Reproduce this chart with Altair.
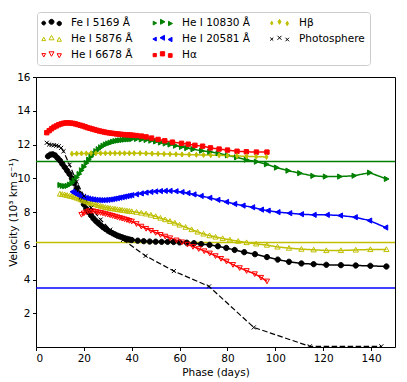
import altair as alt
import pandas as pd

# ---------------- data ----------------
fe_day = [5, 6, 7, 8, 9, 10, 11, 12, 13, 14, 15, 16, 17, 18, 19, 20, 21, 22, 23, 24, 25, 26, 27, 28, 29, 30,
          31, 32, 33, 34, 35, 36, 37, 38, 39, 40, 42.5, 45, 47.5, 50, 52.5, 55, 57.5, 60, 63, 66, 69, 72.5,
          76, 79.5, 83, 87, 91.5, 96.5, 101, 105.7, 110.9, 116, 121.3, 127.4, 133.6, 139.7, 146.4]
fe_vel = [11.3, 11.4, 11.42, 11.35, 11.2, 11.05, 10.85, 10.65, 10.45, 10.25, 10.0, 9.7, 9.4, 9.1, 8.75, 8.45,
          8.2, 8.0, 7.8, 7.62, 7.47, 7.34, 7.22, 7.1, 7.0, 6.9, 6.82, 6.74, 6.67, 6.6, 6.55, 6.5, 6.45, 6.41,
          6.37, 6.34, 6.3, 6.27, 6.25, 6.24, 6.23, 6.23, 6.22, 6.2, 6.18, 6.15, 6.1, 6.05, 5.97, 5.87, 5.75,
          5.62, 5.5, 5.33, 5.18, 5.05, 4.95, 4.91, 4.87, 4.85, 4.83, 4.81, 4.77]

he5876_day = [10, 11, 12, 13, 14, 15, 16, 17, 18, 19, 20, 21, 22, 23, 24, 25, 26, 27, 28, 29, 30, 31, 32, 33,
              34, 35, 36, 37, 38, 39, 40, 42, 44, 46, 48, 50, 52, 54, 56, 58, 60, 62.5, 65, 67.5, 70, 72.5,
              75, 78, 81, 84.5, 88, 92, 96.5, 100.9, 105.7, 110.9, 116, 121.3, 127.4, 133.6, 139.7, 146.4]
he5876_vel = [9.07, 9.05, 9.02, 8.99, 8.95, 8.92, 8.88, 8.83, 8.78, 8.72, 8.67, 8.62, 8.57, 8.52, 8.48, 8.44,
              8.39, 8.35, 8.31, 8.28, 8.25, 8.22, 8.2, 8.18, 8.15, 8.13, 8.11, 8.09, 8.07, 8.05, 8.03, 7.99,
              7.94, 7.89, 7.82, 7.74, 7.64, 7.55, 7.45, 7.35, 7.23, 7.1, 6.96, 6.82, 6.7, 6.6, 6.52, 6.43,
              6.35, 6.27, 6.19, 6.11, 6.04, 5.93, 5.86, 5.8, 5.76, 5.72, 5.72, 5.75, 5.78, 5.78]

he6678_day = [19, 20, 21, 22, 23, 24, 25, 26, 27, 28, 29, 30, 31, 32, 33, 34, 35, 36, 37, 38, 39, 40, 42, 44,
              46, 48, 50, 52, 54, 56, 58.7, 61, 63.3, 65.6, 68, 70.3, 72.6, 75, 77.3, 79.6, 82.3, 85.1, 88,
              91.4, 94, 96.5]
he6678_vel = [7.85, 7.93, 8.0, 8.06, 8.07, 8.05, 8.02, 7.99, 7.96, 7.93, 7.89, 7.86, 7.82, 7.78, 7.74, 7.7,
              7.66, 7.62, 7.58, 7.54, 7.49, 7.45, 7.3, 7.15, 7.02, 6.9, 6.78, 6.66, 6.56, 6.46, 6.33, 6.22,
              6.08, 5.95, 5.82, 5.69, 5.56, 5.4, 5.24, 5.08, 4.88, 4.69, 4.52, 4.33, 4.12, 3.9]

he10830_day = [10, 11, 12, 13, 14, 15, 16, 17, 18, 19, 20, 21, 22, 23, 24, 25, 26, 27, 28, 29, 30, 31, 32,
               33, 34, 35, 36, 37, 38, 39, 40, 42, 44, 46, 48, 50, 52, 54, 56, 58.3, 60.8, 63, 65.6, 69.2,
               72.6, 76.1, 80, 83.8, 87.9, 92.1, 96.3, 100.5, 105.3, 110.2, 115.7, 120.9, 126.9, 132.9,
               139.4, 146.4]
he10830_vel = [9.6, 9.55, 9.53, 9.55, 9.62, 9.72, 9.88, 10.05, 10.25, 10.47, 10.68, 10.9, 11.1, 11.28, 11.45,
               11.6, 11.72, 11.83, 11.92, 12.0, 12.06, 12.11, 12.16, 12.2, 12.23, 12.25, 12.27, 12.29, 12.3,
               12.31, 12.32, 12.33, 12.3, 12.27, 12.23, 12.18, 12.12, 12.06, 12.0, 11.93, 11.86, 11.79,
               11.72, 11.63, 11.57, 11.48, 11.36, 11.24, 11.1, 10.98, 10.83, 10.63, 10.45, 10.3, 10.14,
               10.1, 10.1, 10.15, 10.33, 9.96]

he20581_day = [15.3, 16, 17, 18, 19, 20, 21, 22, 23, 24, 25, 26, 27, 28, 29, 30, 31, 32, 33, 34, 35, 36, 37,
               38, 39, 40, 42, 44, 46, 48, 50, 52, 54, 56, 58.5, 61, 63.5, 66, 69, 72.6, 76, 79.6, 83, 86.5,
               90.5, 94.2, 97, 101.1, 106, 110.9, 116.2, 121.7, 127.2, 133.4, 139.4, 146.1]
he20581_vel = [9.2, 9.12, 9.05, 8.98, 8.92, 8.87, 8.83, 8.79, 8.76, 8.74, 8.72, 8.71, 8.7, 8.7, 8.71, 8.72,
               8.74, 8.76, 8.79, 8.82, 8.85, 8.88, 8.91, 8.94, 8.97, 9.0, 9.05, 9.1, 9.15, 9.19, 9.22, 9.24,
               9.25, 9.25, 9.23, 9.18, 9.12, 9.04, 8.95, 8.84, 8.72, 8.6, 8.48, 8.38, 8.28, 8.14, 8.08, 7.99,
               7.93, 7.87, 7.83, 7.83, 7.79, 7.69, 7.49, 7.08]

ha_day = [4.5, 5.5, 6.5, 7.5, 8.5, 9.5, 10.5, 11.5, 12.5, 13.5, 14.5, 15.5, 16.5, 17.5, 18.5, 19.5, 20.5,
          21.5, 22.5, 23.5, 24.5, 25.5, 26.5, 27.5, 28.5, 29.5, 30.5, 31.5, 32.5, 33.5, 34.5, 35.5, 36.5,
          37.5, 38.5, 39.5, 40.5, 42, 44, 46, 48.3, 51, 53.8, 57, 60.8, 63.6, 66.4, 69.6, 72.9, 76.5, 80,
          84, 87.9, 92.1, 96.5]
ha_vel = [12.7, 12.82, 12.93, 13.03, 13.1, 13.17, 13.22, 13.26, 13.28, 13.28, 13.27, 13.25, 13.22, 13.18,
          13.14, 13.1, 13.05, 13.0, 12.96, 12.92, 12.88, 12.84, 12.8, 12.77, 12.74, 12.71, 12.69, 12.67,
          12.65, 12.63, 12.62, 12.6, 12.59, 12.58, 12.57, 12.56, 12.55, 12.53, 12.5, 12.45, 12.38, 12.3,
          12.22, 12.14, 12.07, 12.02, 11.95, 11.9, 11.8, 11.73, 11.67, 11.6, 11.57, 11.55, 11.55]

hb_day = [15, 17, 19, 21, 23, 25, 27, 29, 31, 33, 35, 37, 39, 41, 43.5, 46, 48.5, 51, 53.5, 56, 58.5, 61,
          64, 67, 70, 73, 76.5, 80, 84, 88, 92, 96.3]
hb_vel = [11.45, 11.46, 11.47, 11.47, 11.48, 11.48, 11.48, 11.48, 11.48, 11.48, 11.48, 11.48, 11.48, 11.48,
          11.48, 11.47, 11.46, 11.45, 11.44, 11.43, 11.42, 11.41, 11.4, 11.39, 11.38, 11.37, 11.36, 11.34,
          11.32, 11.3, 11.28, 11.26]

phot_day = [4.5, 5.5, 6.5, 7.5, 8.5, 9.5, 10.5, 11.5, 14, 17, 20, 23, 27, 31, 36.4, 45.8, 57.6, 72.3, 91,
            114.4, 144.3]
phot_vel = [12.1, 12.0, 11.97, 11.96, 11.93, 11.9, 11.8, 11.6, 10.8, 9.8, 8.95, 8.25, 7.55, 6.95, 6.35, 5.4,
            4.5, 3.59, 1.16, 0.04, 0.04]

hline_vel = [11.0, 6.2, 3.5]
hline_col = ["#008000", "#bfbf00", "#0000ff"]

series_names = ["Fe I 5169 Å", "He I 5876 Å", "He I 6678 Å", "He I 10830 Å", "He I 20581 Å", "Hα", "Hβ",
                "Photosphere"]
series_cols = ["#000000", "#bfbf00", "#ff0000", "#008000", "#0000ff", "#ff0000", "#bfbf00", "#000000"]
series_fill = ["#000000", "transparent", "transparent", "#008000", "#0000ff", "#ff0000", "#bfbf00",
               "transparent"]
series_kind = ["circle", "tri-up", "tri-down", "tri-right", "tri-left", "square", "thin-diamond", "x"]
series_size = [28, 26, 26, 30, 30, 38, 55, 45]

x_ticks = [0, 20, 40, 60, 80, 100, 120, 140]
y_ticks = [2, 4, 6, 8, 10, 12, 14, 16]

all_days = [fe_day, he5876_day, he6678_day, he10830_day, he20581_day, ha_day, hb_day, phot_day]
all_vels = [fe_vel, he5876_vel, he6678_vel, he10830_vel, he20581_vel, ha_vel, hb_vel, phot_vel]

rows = []
for name, ds, vs in zip(series_names, all_days, all_vels):
    for d, v in zip(ds, vs):
        rows.append({"series": name, "day": d, "vel": v})
df = pd.DataFrame(rows)
hdf = pd.DataFrame({"vel": hline_vel, "col": hline_col})


# ---------------- marker shapes ----------------
def fmt(v):
    return f"{v:.3f}"


def marker_path(kind, cx, cy, r):
    if kind == "circle":
        return (f"M{fmt(cx - r)},{fmt(cy)}A{fmt(r)},{fmt(r)} 0 1,0 {fmt(cx + r)},{fmt(cy)}"
                f"A{fmt(r)},{fmt(r)} 0 1,0 {fmt(cx - r)},{fmt(cy)}Z")
    if kind == "tri-up":
        return f"M{fmt(cx)},{fmt(cy - r)}L{fmt(cx + r)},{fmt(cy + r * 0.8)}L{fmt(cx - r)},{fmt(cy + r * 0.8)}Z"
    if kind == "tri-down":
        return f"M{fmt(cx)},{fmt(cy + r)}L{fmt(cx + r)},{fmt(cy - r * 0.8)}L{fmt(cx - r)},{fmt(cy - r * 0.8)}Z"
    if kind == "tri-right":
        return f"M{fmt(cx + r)},{fmt(cy)}L{fmt(cx - r * 0.8)},{fmt(cy - r)}L{fmt(cx - r * 0.8)},{fmt(cy + r)}Z"
    if kind == "tri-left":
        return f"M{fmt(cx - r)},{fmt(cy)}L{fmt(cx + r * 0.8)},{fmt(cy - r)}L{fmt(cx + r * 0.8)},{fmt(cy + r)}Z"
    if kind == "square":
        s = r * 0.85
        return f"M{fmt(cx - s)},{fmt(cy - s)}L{fmt(cx + s)},{fmt(cy - s)}L{fmt(cx + s)},{fmt(cy + s)}L{fmt(cx - s)},{fmt(cy + s)}Z"
    if kind == "thin-diamond":
        return f"M{fmt(cx)},{fmt(cy - r)}L{fmt(cx + 0.6 * r)},{fmt(cy)}L{fmt(cx)},{fmt(cy + r)}L{fmt(cx - 0.6 * r)},{fmt(cy)}Z"
    # x marker
    s = r * 0.8
    return f"M{fmt(cx - s)},{fmt(cy - s)}L{fmt(cx + s)},{fmt(cy + s)}M{fmt(cx + s)},{fmt(cy - s)}L{fmt(cx - s)},{fmt(cy + s)}"


single_shapes = [marker_path(k, 0, 0, 1) for k in series_kind]
triple_shapes = [" ".join(marker_path(k, cx, cy, r) for cx, cy, r in
                          [(-1.55, 0.12, 0.38), (0.0, -0.14, 0.5), (1.55, 0.2, 0.44)])
                 for k in series_kind]

FONT = "DejaVu Sans"
YTITLE = "Velocity (10³ km s⁻¹)"

xenc = alt.X("day:Q", scale=alt.Scale(domain=[0, 150], nice=False, zero=False),
             axis=alt.Axis(values=x_ticks, title="Phase (days)"))
yaxis = alt.Axis(values=y_ticks, title=YTITLE, titleX=-28, titleY=135, titleBaseline="top",
                 titleAlign="center", titleAngle=270)
yenc = alt.Y("vel:Q", scale=alt.Scale(domain=[0, 16], nice=False, zero=False), axis=yaxis)

rules = alt.Chart(hdf).mark_rule(strokeWidth=1.5).encode(
    y=yenc,
    color=alt.Color("col:N", scale=None),
)

lines = alt.Chart(df).mark_line(clip=True).encode(
    x=xenc, y=yenc,
    color=alt.Color("series:N", scale=alt.Scale(domain=series_names, range=series_cols), legend=None),
    strokeDash=alt.condition(alt.datum.series == "Photosphere", alt.value([5.5, 2.5]), alt.value([1, 0])),
    strokeWidth=alt.condition(alt.datum.series == "Photosphere", alt.value(1.2), alt.value(1.5)),
    order="day:Q",
)

points = alt.Chart(df).mark_point(filled=True, opacity=1, strokeWidth=1, clip=True).encode(
    x=xenc, y=yenc,
    shape=alt.Shape("series:N", scale=alt.Scale(domain=series_names, range=single_shapes), legend=None),
    stroke=alt.Stroke("series:N", scale=alt.Scale(domain=series_names, range=series_cols), legend=None),
    fill=alt.Fill("series:N", scale=alt.Scale(domain=series_names, range=series_fill), legend=None),
    size=alt.Size("series:N", scale=alt.Scale(domain=series_names, range=series_size), legend=None),
)

leg = alt.Legend(
    title=None, orient="none", legendX=1, legendY=-65, columns=3, direction="vertical",
    columnPadding=17, rowPadding=5, padding=5,
    symbolSize=100, symbolStrokeWidth=1, symbolOffset=4, labelOffset=14,
    labelFont=FONT, labelFontSize=10.5, labelColor="black",
    strokeColor="#cccccc", fillColor="white", cornerRadius=3,
)

legend_layer = alt.Chart(df).transform_filter("datum.day < -1000").mark_point(
    filled=True, opacity=1, strokeWidth=1).encode(
    x=xenc, y=yenc,
    shape=alt.Shape("series:N", scale=alt.Scale(domain=series_names, range=triple_shapes), legend=leg),
    stroke=alt.Stroke("series:N", scale=alt.Scale(domain=series_names, range=series_cols), legend=leg),
    fill=alt.Fill("series:N", scale=alt.Scale(domain=series_names, range=series_fill), legend=leg),
)

chart = alt.layer(rules, lines, points, legend_layer).resolve_scale(
    shape="independent", stroke="independent", fill="independent", color="independent", size="independent"
).properties(
    width=359, height=270,
    autosize=alt.AutoSizeParams(type="none"),
    padding={"left": 28, "top": 69, "right": 4, "bottom": 33},
).configure_view(
    stroke="black", strokeWidth=1
).configure_axis(
    grid=False, domain=False, ticks=True, tickColor="black", tickSize=3.5, tickWidth=1,
    labelFont=FONT, labelFontSize=10.5, labelColor="black", labelPadding=2.5,
    titleFont=FONT, titleFontSize=10.5, titleFontWeight="normal", titleColor="black",
).configure_axisX(titlePadding=4)

chart.save("out.html", embed_options={"renderer": "svg", "actions": False})
